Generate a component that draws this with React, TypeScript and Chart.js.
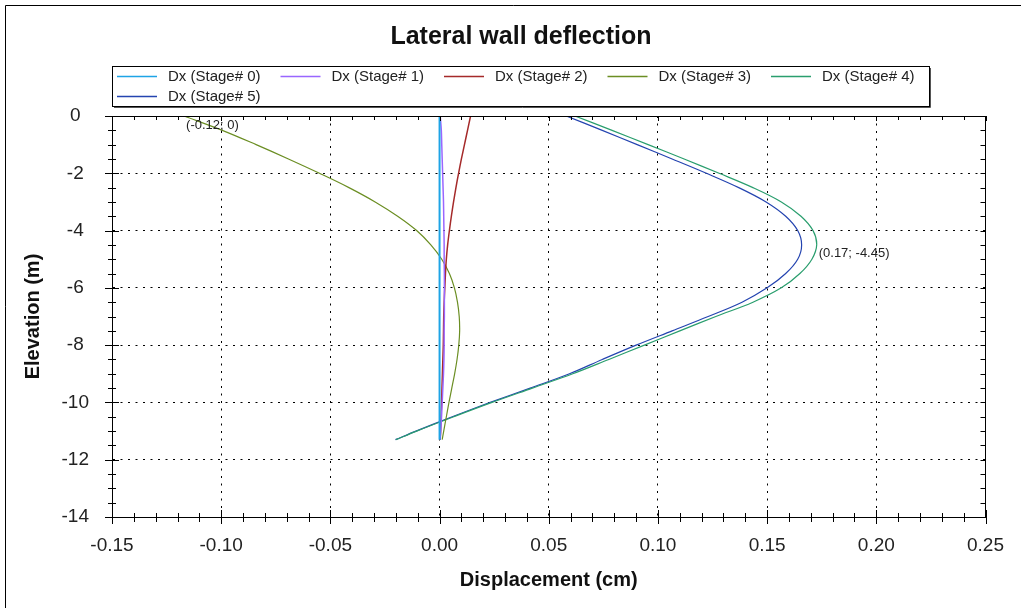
import React, { useEffect, useRef } from "react";
import { Chart, registerables } from "chart.js";

Chart.register(...registerables);

// ---- data ----
const elevations = [0, -0.5, -1, -1.5, -2, -2.5, -3, -3.5, -4, -4.5, -5, -5.5, -6, -6.5, -7, -7.5, -8, -8.5, -9, -9.5, -10, -10.5, -11, -11.3];

const stage0 = [0, 0, 0, 0, 0, 0, 0, 0, 0, 0, 0, 0, 0, 0, 0, 0, 0, 0, 0, 0, 0, 0, 0, 0];
const stage1 = [0.0003, 0.0008, 0.001, 0.0012, 0.0014, 0.0016, 0.0018, 0.0019, 0.002, 0.0021, 0.0021, 0.0022, 0.0022, 0.0022, 0.0022, 0.0021, 0.0021, 0.002, 0.0018, 0.0015, 0.0012, 0.0009, 0.0005, 0.0002];
const stage2 = [0.0142, 0.0128, 0.0114, 0.01, 0.0087, 0.0075, 0.0064, 0.0054, 0.0045, 0.0037, 0.0031, 0.0027, 0.0024, 0.0021, 0.0019, 0.0018, 0.0017, 0.0015, 0.0013, 0.0011, 0.0009, 0.0007, 0.0005, 0.0003];
const stage3 = [-0.117, -0.0995, -0.084, -0.0692, -0.055, -0.0415, -0.0295, -0.0192, -0.0105, -0.004, 0.001, 0.0045, 0.0068, 0.0082, 0.009, 0.0092, 0.0088, 0.008, 0.0069, 0.0056, 0.0043, 0.0031, 0.0019, 0.0012];
const stage4 = [0.062, 0.079, 0.0955, 0.112, 0.128, 0.1435, 0.1565, 0.1655, 0.171, 0.1727, 0.1705, 0.165, 0.1565, 0.1435, 0.1265, 0.11, 0.0938, 0.0775, 0.061, 0.0425, 0.024, 0.0065, -0.0105, -0.02];
const stage5 = [0.058, 0.0745, 0.0905, 0.1065, 0.1222, 0.137, 0.1495, 0.1585, 0.164, 0.1658, 0.164, 0.1585, 0.15, 0.1385, 0.123, 0.1065, 0.09, 0.0745, 0.0595, 0.0415, 0.0232, 0.0058, -0.0108, -0.0202];

const seriesLabels = ["Dx (Stage# 0)", "Dx (Stage# 1)", "Dx (Stage# 2)", "Dx (Stage# 3)", "Dx (Stage# 4)", "Dx (Stage# 5)"];
const seriesValues = [stage0, stage1, stage2, stage3, stage4, stage5];
const seriesColors = ["#1ea4e6", "#9966ff", "#a52a2a", "#6b8e23", "#2a9e6e", "#2444b0"];
const seriesWidths = [2, 1.5, 1.5, 1.2, 1.2, 1.2];

const xTickMin = -0.15;
const xTickMax = 0.25;
const xTickStep = 0.05;
const yTickMin = -14;
const yTickMax = 0;
const yTickStep = 2;

const annotX = [-0.117, 0.1727];
const annotY = [0, -4.45];
const annotText = ["(-0.12; 0)", "(0.17; -4.45)"];

const titleText = "Lateral wall deflection";
const xTitle = "Displacement (cm)";
const yTitle = "Elevation (m)";

const FONT = "'Liberation Sans', Arial, sans-serif";

const decorPlugin = {
  id: "decor",
  beforeDraw(chart: any) {
    const ctx = chart.ctx;
    ctx.save();
    ctx.fillStyle = "#ffffff";
    ctx.fillRect(0, 0, chart.width, chart.height);
    ctx.restore();
  },
  afterDraw(chart: any) {
    const ctx = chart.ctx;
    const { left, right, top, bottom } = chart.chartArea;
    const xs = chart.scales.x;
    const ys = chart.scales.y;
    ctx.save();

    // outer frame
    ctx.strokeStyle = "#000";
    ctx.lineWidth = 1;
    ctx.beginPath();
    ctx.moveTo(5.5, chart.height);
    ctx.lineTo(5.5, 5.5);
    ctx.lineTo(chart.width, 5.5);
    ctx.stroke();

    // top and right borders of plot area
    ctx.beginPath();
    ctx.moveTo(left, Math.round(top) + 0.5);
    ctx.lineTo(right, Math.round(top) + 0.5);
    ctx.moveTo(Math.round(right) - 0.5, top);
    ctx.lineTo(Math.round(right) - 0.5, bottom);
    ctx.stroke();

    // x ticks (major + minor)
    const xMinorStep = xTickStep / 5;
    const nx = Math.round((xTickMax - xTickMin) / xMinorStep);
    ctx.beginPath();
    for (let i = 0; i <= nx; i++) {
      const v = xTickMin + i * xMinorStep;
      const px = Math.round(xs.getPixelForValue(v)) + 0.5;
      const major = i % 5 === 0;
      const b = Math.round(bottom);
      ctx.moveTo(px, b - (major ? 7 : 4));
      ctx.lineTo(px, b + (major ? 7 : 5));
      ctx.moveTo(px, top);
      ctx.lineTo(px, top + (major ? 5 : 4));
    }
    // y ticks
    const yMinorStep = yTickStep / 4;
    const ny = Math.round((yTickMax - yTickMin) / yMinorStep);
    for (let i = 0; i <= ny; i++) {
      const v = yTickMin + i * yMinorStep;
      const py = Math.round(ys.getPixelForValue(v)) + 0.5;
      const major = i % 4 === 0;
      const l = Math.round(left);
      ctx.moveTo(l - (major ? 7 : 4), py);
      ctx.lineTo(l + (major ? 7 : 4), py);
      ctx.moveTo(right, py);
      ctx.lineTo(right - 5, py);
    }
    ctx.stroke();

    // title
    ctx.fillStyle = "#111";
    ctx.font = `bold 25px ${FONT}`;
    ctx.textAlign = "center";
    ctx.textBaseline = "middle";
    ctx.fillText(titleText, 521, 37);

    // legend box
    const lx = 112, ly = 66, lw = 817, lh = 40;
    ctx.fillStyle = "#fff";
    ctx.fillRect(lx, ly, lw, lh);
    ctx.strokeStyle = "#000";
    ctx.lineWidth = 1;
    ctx.strokeRect(lx + 0.5, ly + 0.5, lw, lh);
    ctx.strokeStyle = "#555";
    ctx.beginPath();
    ctx.moveTo(lx + 2, ly + lh + 1.5);
    ctx.lineTo(lx + lw + 1.5, ly + lh + 1.5);
    ctx.lineTo(lx + lw + 1.5, ly + 2);
    ctx.stroke();

    ctx.font = `15px ${FONT}`;
    ctx.textAlign = "left";
    ctx.textBaseline = "middle";
    chart.data.datasets.forEach((ds: any, i: number) => {
      const col = i % 5;
      const row = Math.floor(i / 5);
      const x0 = lx + 5 + col * 163.5;
      const y = ly + 10 + row * 20;
      ctx.strokeStyle = ds.borderColor;
      ctx.lineWidth = 1.5;
      ctx.beginPath();
      ctx.moveTo(x0, y + 0.5);
      ctx.lineTo(x0 + 40, y + 0.5);
      ctx.stroke();
      ctx.fillStyle = "#222";
      ctx.fillText(ds.label, x0 + 51, y + 1);
    });

    // point annotations
    ctx.font = `13px ${FONT}`;
    ctx.fillStyle = "#222";
    ctx.textAlign = "left";
    ctx.textBaseline = "top";
    annotText.forEach((t, i) => {
      const px = xs.getPixelForValue(annotX[i]);
      const py = ys.getPixelForValue(annotY[i]);
      ctx.fillText(t, px + 2, py + 3);
    });

    ctx.restore();
  },
};

export default function App() {
  const canvasRef = useRef<HTMLCanvasElement | null>(null);

  useEffect(() => {
    const canvas = canvasRef.current;
    if (!canvas) return;
    const datasets = seriesValues.map((vals, i) => ({
      label: seriesLabels[i],
      data: vals.map((v, k) => ({ x: v, y: elevations[k] })),
      borderColor: seriesColors[i],
      backgroundColor: seriesColors[i],
      borderWidth: seriesWidths[i],
      showLine: true,
      pointRadius: 0,
      tension: 0.35,
      fill: false,
    }));

    const chart = new Chart(canvas, {
      type: "scatter",
      data: { datasets },
      options: {
        responsive: false,
        animation: false,
        layout: { padding: { top: 116, right: 31, left: 0, bottom: 0 } },
        plugins: {
          legend: { display: false },
          title: { display: false },
          tooltip: { enabled: false },
        },
        scales: {
          x: {
            type: "linear",
            min: xTickMin,
            max: xTickMax,
            afterFit: (s: any) => {
              s.height = 91;
            },
            ticks: {
              stepSize: xTickStep,
              padding: 17,
              color: "#222",
              font: { family: FONT, size: 19 },
              maxRotation: 0,
              callback: (v: any) => (Math.abs(Number(v)) < 1e-9 ? 0 : Number(v)).toFixed(2),
            },
            grid: { color: "#000", lineWidth: 1, drawTicks: false },
            border: { display: true, color: "#000", width: 1, dash: [2, 5.5] },
            title: {
              display: true,
              text: xTitle,
              color: "#111",
              font: { family: FONT, size: 20, weight: "bold" },
              padding: { top: 0, bottom: 16 },
            },
          },
          y: {
            type: "linear",
            min: yTickMin,
            max: yTickMax,
            afterFit: (s: any) => {
              s.width = 112;
            },
            ticks: {
              stepSize: yTickStep,
              padding: 23,
              crossAlign: "center",
              color: "#222",
              font: { family: FONT, size: 19 },
              callback: (v: any) => String(Math.round(Number(v))),
            },
            grid: { color: "#000", lineWidth: 1, drawTicks: false },
            border: { display: true, color: "#000", width: 1, dash: [2, 5.5] },
            title: {
              display: true,
              text: yTitle,
              color: "#111",
              font: { family: FONT, size: 20, weight: "bold" },
              padding: { top: 21, bottom: 0 },
            },
          },
        },
      } as any,
      plugins: [decorPlugin],
    });

    return () => chart.destroy();
  }, []);

  return (
    <div style={{ position: "fixed", left: 0, top: 0, width: 1021, height: 608, background: "#fff" }}>
      <canvas ref={canvasRef} width={1021} height={608} style={{ display: "block" }} />
    </div>
  );
}
